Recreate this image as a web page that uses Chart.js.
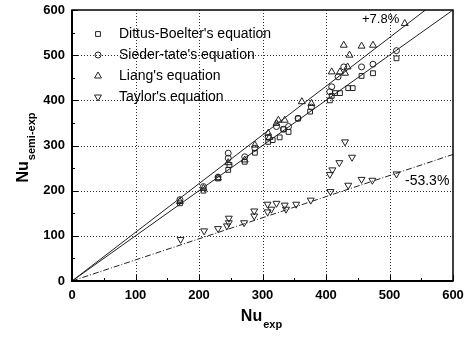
<!DOCTYPE html>
<html>
<head>
<meta charset="utf-8">
<script src="https://cdn.jsdelivr.net/npm/chart.js@4.4.0/dist/chart.umd.min.js"></script>
<style>
  html, body { margin: 0; padding: 0; background: #fff; }
</style>
</head>
<body>
<canvas id="nuChart" width="472" height="337"></canvas>
<script>
// Nu_exp (x) and Nu_semi-exp (y)
const dittusX = [170, 207, 230, 246, 248, 272, 288, 309, 316, 327, 333, 341, 356, 375, 406, 409, 414, 422, 435, 442, 456, 474, 511];
const dittusY = [172, 200, 227, 246, 257, 264, 284, 308, 312, 318, 336, 330, 360, 375, 400, 410, 416, 416, 427, 427, 454, 460, 493];

const siederX = [170, 207, 230, 246, 246, 272, 288, 309, 322, 333, 341, 356, 377, 406, 409, 419, 428, 456, 474, 511];
const siederY = [180, 209, 230, 272, 283, 275, 294, 318, 342, 336, 342, 360, 385, 419, 430, 452, 474, 474, 480, 510];

const liangX = [170, 207, 230, 246, 272, 288, 309, 311, 322, 325, 335, 362, 377, 409, 422, 430, 434, 437, 428, 456, 474, 524];
const liangY = [176, 205, 228, 262, 268, 301, 327, 318, 349, 356, 356, 397, 393, 463, 463, 460, 474, 500, 522, 520, 522, 570];

const taylorX = [171, 208, 230, 244, 247, 247, 271, 287, 287, 308, 308, 314, 322, 335, 337, 353, 376, 407, 406, 410, 421, 430, 441, 435, 456, 473, 511];
const taylorY = [92, 111, 116, 122, 139, 129, 129, 155, 144, 170, 153, 159, 172, 168, 159, 170, 179, 198, 236, 246, 262, 308, 274, 212, 225, 223, 237];

const seriesNames = ["Dittus-Boelter's equation", "Sieder-tate's equation", "Liang's equation", "Taylor's equation"];

// reference lines: y = x, +7.8 %, -53.3 %
const lineRatios = [1.0, 1.078, 0.467];
const axisMax = 600;

const toPoints = (xs, ys) => xs.map((x, i) => ({ x: x, y: ys[i] }));
const ratioLine = r => [{ x: 0, y: 0 }, { x: axisMax, y: axisMax * r }];

const ink = '#222';
const markerBase = {
    type: 'scatter',
    borderColor: ink,
    backgroundColor: 'rgba(0,0,0,0)',
    borderWidth: 1,
    pointRadius: 3.6,
    pointHoverRadius: 3.6
};

const datasets = [
    { ...markerBase, label: seriesNames[0], data: toPoints(dittusX, dittusY), pointStyle: 'rect', pointRadius: 3.4 },
    { ...markerBase, label: seriesNames[1], data: toPoints(siederX, siederY), pointStyle: 'circle', pointRadius: 3 },
    { ...markerBase, label: seriesNames[2], data: toPoints(liangX, liangY), pointStyle: 'triangle', pointRadius: 4 },
    { ...markerBase, label: seriesNames[3], data: toPoints(taylorX, taylorY), pointStyle: 'triangle', pointRotation: 180, pointRadius: 4 },
    { type: 'line', label: 'y=x', data: ratioLine(lineRatios[0]), borderColor: ink, borderWidth: 1, pointRadius: 0, fill: false },
    { type: 'line', label: '+7.8%', data: ratioLine(lineRatios[1]), borderColor: ink, borderWidth: 1, pointRadius: 0, fill: false },
    { type: 'line', label: '-53.3%', data: ratioLine(lineRatios[2]), borderColor: ink, borderWidth: 1, borderDash: [6, 2, 1, 2], pointRadius: 0, fill: false }
];

const fontFamily = "Arial, 'Liberation Sans', Helvetica, sans-serif";

// dotted grid under the data
const dottedGrid = {
    id: 'dottedGrid',
    beforeDatasetsDraw(chart) {
        const ctx = chart.ctx;
        const area = chart.chartArea;
        const xs = chart.scales.x, ys = chart.scales.y;
        ctx.save();
        ctx.strokeStyle = '#333';
        ctx.lineWidth = 1;
        ctx.setLineDash([1, 2]);
        for (let v = 100; v < axisMax; v += 100) {
            const px = Math.round(xs.getPixelForValue(v)) + 0.5;
            ctx.beginPath(); ctx.moveTo(px, area.top); ctx.lineTo(px, area.bottom); ctx.stroke();
            const py = Math.round(ys.getPixelForValue(v)) + 0.5;
            ctx.beginPath(); ctx.moveTo(area.left, py); ctx.lineTo(area.right, py); ctx.stroke();
        }
        ctx.restore();
    }
};

// frame, inward ticks, axis titles with subscripts, custom legend and % labels
const decorations = {
    id: 'decorations',
    afterDraw(chart) {
        const ctx = chart.ctx;
        const area = chart.chartArea;
        const xs = chart.scales.x, ys = chart.scales.y;
        ctx.save();

        // inward ticks
        ctx.strokeStyle = '#000';
        ctx.lineWidth = 1;
        for (let v = 0; v <= axisMax; v += 50) {
            const len = v % 100 === 0 ? 6 : 3;
            const px = Math.round(xs.getPixelForValue(v)) + 0.5;
            ctx.beginPath(); ctx.moveTo(px, area.bottom); ctx.lineTo(px, area.bottom - len); ctx.stroke();
            const py = Math.round(ys.getPixelForValue(v)) + 0.5;
            ctx.beginPath(); ctx.moveTo(area.left, py); ctx.lineTo(area.left + len, py); ctx.stroke();
        }

        // frame
        ctx.lineWidth = 1.5;
        ctx.strokeRect(area.left, area.top, area.right - area.left, area.bottom - area.top);
        ctx.lineWidth = 2;
        ctx.beginPath();
        ctx.moveTo(area.left, area.top); ctx.lineTo(area.left, area.bottom); ctx.lineTo(area.right, area.bottom);
        ctx.stroke();

        // legend
        ctx.font = '14px ' + fontFamily;
        ctx.textBaseline = 'middle';
        ctx.textAlign = 'left';
        const rows = [34, 55, 76, 97];
        for (let i = 0; i < 4; i++) {
            const ds = chart.data.datasets[i];
            ctx.fillStyle = 'rgba(0,0,0,0)';
            ctx.strokeStyle = ink;
            ctx.lineWidth = 1;
            Chart.helpers.drawPoint(ctx, {
                pointStyle: ds.pointStyle,
                rotation: ds.pointRotation || 0,
                radius: ds.pointRadius,
                borderWidth: 1
            }, 98, rows[i]);
            ctx.fillStyle = '#000';
            ctx.fillText(seriesNames[i], 119, rows[i]);
        }

        // percentage labels
        ctx.fillStyle = '#000';
        ctx.font = '13px ' + fontFamily;
        ctx.fillText('+7.8%', 362, 19);
        ctx.font = '14px ' + fontFamily;
        ctx.fillText('-53.3%', 405, 181);

        // x title
        ctx.font = 'bold 16px ' + fontFamily;
        ctx.textAlign = 'left';
        ctx.textBaseline = 'alphabetic';
        const nuW = ctx.measureText('Nu').width;
        ctx.font = 'bold 11px ' + fontFamily;
        const expW = ctx.measureText('exp').width;
        let tx = 261 - (nuW + expW) / 2;
        ctx.font = 'bold 16px ' + fontFamily;
        ctx.fillText('Nu', tx, 321);
        ctx.font = 'bold 11px ' + fontFamily;
        ctx.fillText('exp', tx + nuW + 1, 328);

        // y title
        ctx.translate(28, 148);
        ctx.rotate(-Math.PI / 2);
        ctx.font = 'bold 16px ' + fontFamily;
        const nuW2 = ctx.measureText('Nu').width;
        ctx.font = 'bold 11px ' + fontFamily;
        const semiW = ctx.measureText('semi-exp').width;
        tx = -(nuW2 + semiW) / 2;
        ctx.font = 'bold 16px ' + fontFamily;
        ctx.fillText('Nu', tx, 0);
        ctx.font = 'bold 11px ' + fontFamily;
        ctx.fillText('semi-exp', tx + nuW2 + 1, 7);

        ctx.restore();
    }
};

const axisCommon = {
    type: 'linear',
    min: 0,
    max: axisMax,
    grid: { display: false, drawTicks: false },
    border: { display: false },
    ticks: { stepSize: 100, color: '#000', font: { family: fontFamily, size: 13, weight: 'bold' } }
};

new Chart(document.getElementById('nuChart').getContext('2d'), {
    data: { datasets: datasets },
    options: {
        responsive: false,
        animation: false,
        layout: { padding: { top: 10, right: 19, left: 0, bottom: 0 } },
        plugins: { legend: { display: false }, tooltip: { enabled: false } },
        scales: {
            x: { ...axisCommon, position: 'bottom', ticks: { ...axisCommon.ticks, padding: 7 },
                 afterFit: s => { s.height = 56; s.paddingLeft = 0; s.paddingRight = 0; } },
            y: { ...axisCommon, position: 'left', ticks: { ...axisCommon.ticks, padding: 7 },
                 afterFit: s => { s.width = 72; s.paddingTop = 0; s.paddingBottom = 0; } }
        }
    },
    plugins: [dottedGrid, decorations]
});
</script>
</body>
</html>
